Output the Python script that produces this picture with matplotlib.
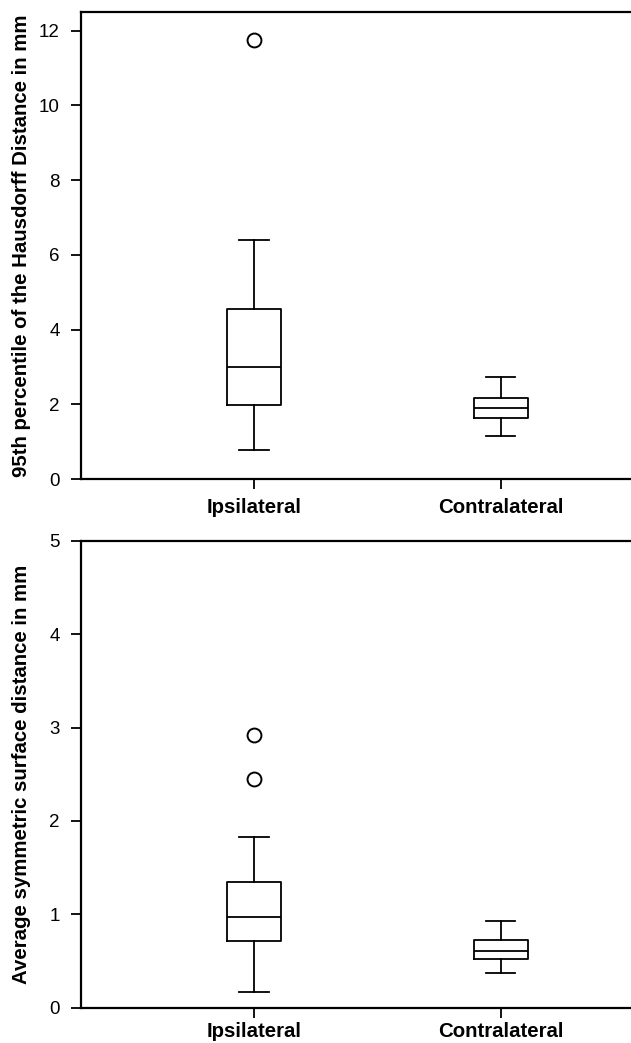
import matplotlib
matplotlib.use("Agg")
import matplotlib.pyplot as plt

plt.rcParams['font.family'] = ['Liberation Sans', 'DejaVu Sans']

categories = ["Ipsilateral", "Contralateral"]

# Top panel: 95th percentile Hausdorff distance (mm)
hd_q1 = [1.99, 1.62]
hd_med = [2.99, 1.89]
hd_q3 = [4.54, 2.17]
hd_whislo = [0.78, 1.15]
hd_whishi = [6.41, 2.73]
hd_fliers = [[11.76], []]

# Bottom panel: average symmetric surface distance (mm)
asd_q1 = [0.71, 0.52]
asd_med = [0.97, 0.612]
asd_q3 = [1.35, 0.72]
asd_whislo = [0.17, 0.37]
asd_whishi = [1.83, 0.93]
asd_fliers = [[2.92, 2.45], []]

W, H = 631, 1043
fig = plt.figure(figsize=(W / 100, H / 100), dpi=100)

left = 80.7 / W
width = 1.0 - left + 0.01
ax1 = fig.add_axes([left, 1 - 479 / H, width, (479 - 12) / H])
ax2 = fig.add_axes([left, 1 - 1007.7 / H, width, (1007.7 - 540.7) / H])


def make_stats(q1, med, q3, lo, hi, fl):
    out = []
    for i in range(len(q1)):
        out.append(dict(q1=q1[i], med=med[i], q3=q3[i], whislo=lo[i],
                        whishi=hi[i], fliers=fl[i], label=categories[i]))
    return out


lw = 1.3
props = dict(color='black', linewidth=lw)
flierprops = dict(marker='o', markerfacecolor='white', markeredgecolor='black',
                  markersize=10, markeredgewidth=1.4, linestyle='none')


def draw(ax, stats, ylim, yticks, ylabel, xpad):
    ax.bxp(stats, positions=[1, 2], widths=0.221, showfliers=True,
           boxprops=props, medianprops=props, whiskerprops=props,
           capprops=props, flierprops=flierprops, capwidths=0.119)
    ax.set_xlim(0.298, 2.553)
    ax.set_ylim(*ylim)
    ax.set_yticks(yticks)
    ax.set_yticklabels([str(t) for t in yticks], fontsize=13.5)
    ax.set_xticks([1, 2])
    ax.set_xticklabels(categories, fontsize=14.7, fontweight='bold')
    ax.tick_params(axis='both', direction='out', length=7, width=1.3)
    ax.tick_params(axis='x', pad=xpad)
    ax.tick_params(axis='y', pad=8)
    ax.spines['right'].set_visible(False)
    for s in ['left', 'bottom', 'top']:
        ax.spines[s].set_linewidth(1.6)
    ax.set_ylabel(ylabel, fontsize=14.7, fontweight='bold')
    ax.yaxis.set_label_coords(-0.0885, 0.5)


draw(ax1, make_stats(hd_q1, hd_med, hd_q3, hd_whislo, hd_whishi, hd_fliers),
     (0, 12.5), [0, 2, 4, 6, 8, 10, 12],
     "95th percentile of the Hausdorff Distance in mm", 7)
draw(ax2, make_stats(asd_q1, asd_med, asd_q3, asd_whislo, asd_whishi, asd_fliers),
     (0, 5), [0, 1, 2, 3, 4, 5],
     "Average symmetric surface distance in mm", 3.5)

fig.savefig("out.png", dpi=100)
